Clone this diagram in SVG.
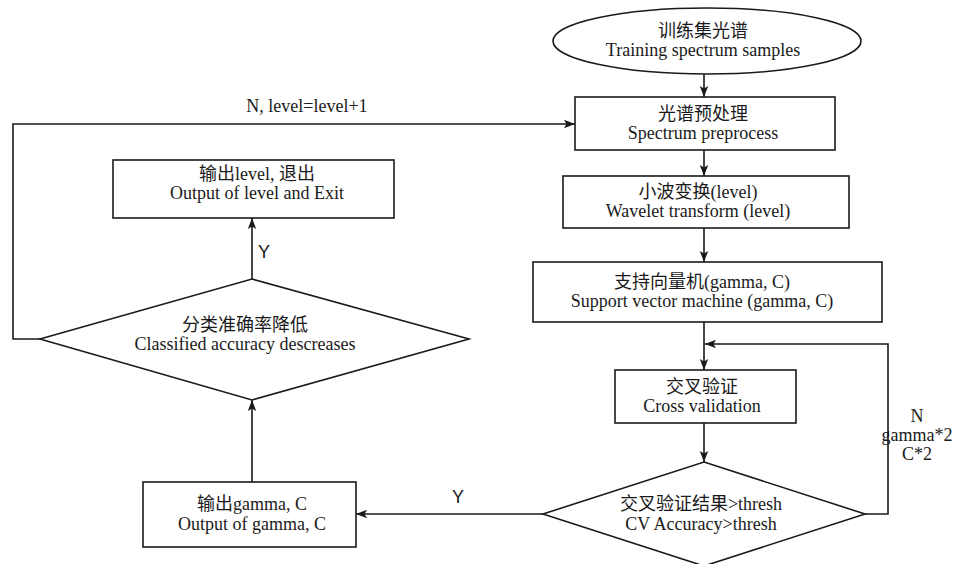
<svg xmlns="http://www.w3.org/2000/svg" width="968" height="564" viewBox="0 0 968 564">
<style>
.shape{fill:#fff;stroke:#1a1a1a;stroke-width:1.6}
.conn{fill:none;stroke:#1a1a1a;stroke-width:1.6}
text{font-family:"Liberation Serif","Noto Sans CJK SC",serif;font-size:18px;fill:#1a1a1a;text-anchor:middle}
.sans{font-family:"Liberation Sans","Noto Sans CJK SC",sans-serif}
</style>
<defs>
<marker id="arr" markerUnits="userSpaceOnUse" markerWidth="12" markerHeight="10" refX="11" refY="5" orient="auto">
<path d="M0,0.8 L11,5 L0,9.2 L2.5,5 Z" fill="#1a1a1a"/>
</marker>
</defs>
<rect width="968" height="564" fill="#fff"/>
<g id="connectors">
<line class="conn" x1="704" y1="74" x2="704" y2="97" marker-end="url(#arr)"/>
<line class="conn" x1="704" y1="150" x2="704" y2="176" marker-end="url(#arr)"/>
<line class="conn" x1="704" y1="228" x2="704" y2="262" marker-end="url(#arr)"/>
<line class="conn" x1="704" y1="322" x2="704" y2="370" marker-end="url(#arr)"/>
<line class="conn" x1="704" y1="423" x2="704" y2="462" marker-end="url(#arr)"/>
<polyline class="conn" points="865,514 888,514 888,344 705,344" marker-end="url(#arr)"/>
<line class="conn" x1="543" y1="514" x2="356" y2="514" marker-end="url(#arr)"/>
<line class="conn" x1="252" y1="482" x2="252" y2="400" marker-end="url(#arr)"/>
<line class="conn" x1="252" y1="279" x2="252" y2="218" marker-end="url(#arr)"/>
<polyline class="conn" points="40,339 13,339 13,124 575,124" marker-end="url(#arr)"/>
<text x="307" y="112">N, level=level+1</text>
<text x="917" y="422">N</text>
<text x="917" y="441">gamma*2</text>
<text x="917" y="460">C*2</text>
<text class="sans" x="458" y="503">Y</text>
<text class="sans" x="264" y="258">Y</text>
</g>
<g id="start">
<ellipse class="shape" cx="707" cy="41" rx="154" ry="33"/>
<text x="703" y="37">训练集光谱</text>
<text x="703" y="56">Training spectrum samples</text>
</g>
<g id="preprocess">
<rect class="shape" x="575" y="97" width="260" height="53"/>
<text x="703" y="120">光谱预处理</text>
<text x="703" y="139">Spectrum preprocess</text>
</g>
<g id="wavelet">
<rect class="shape" x="563" y="176" width="286" height="52"/>
<text x="698" y="198">小波变换(level)</text>
<text x="698" y="217">Wavelet transform (level)</text>
</g>
<g id="svm">
<rect class="shape" x="533" y="262" width="349" height="60"/>
<text x="702" y="288">支持向量机(gamma, C)</text>
<text x="702" y="307">Support vector machine (gamma, C)</text>
</g>
<g id="cv">
<rect class="shape" x="615" y="370" width="181" height="53"/>
<text x="702" y="393">交叉验证</text>
<text x="702" y="412">Cross validation</text>
</g>
<g id="cv-decision">
<polygon class="shape" points="704,462 865,514 704,566 543,514"/>
<text x="701" y="510">交叉验证结果&gt;thresh</text>
<text x="701" y="530">CV Accuracy&gt;thresh</text>
</g>
<g id="output-gamma">
<rect class="shape" x="143" y="482" width="213" height="65"/>
<text x="252" y="510">输出gamma, C</text>
<text x="252" y="530">Output of gamma, C</text>
</g>
<g id="accuracy-decision">
<polygon class="shape" points="252,279 469,339 252,400 40,339"/>
<text x="245" y="331">分类准确率降低</text>
<text x="245" y="350">Classified accuracy descreases</text>
</g>
<g id="output-level">
<rect class="shape" x="113" y="160" width="281" height="58"/>
<text x="257" y="180">输出level, 退出</text>
<text x="257" y="199">Output of level and Exit</text>
</g>
</svg>
